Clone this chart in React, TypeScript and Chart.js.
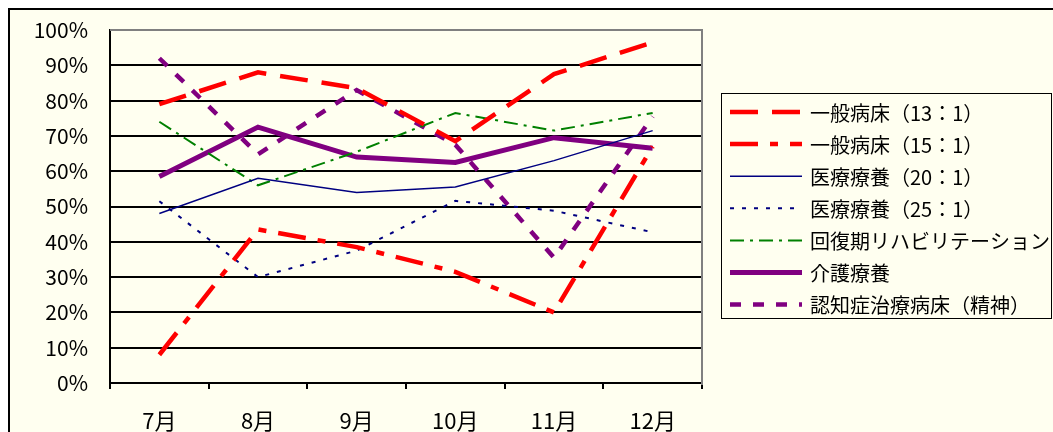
import React, { useEffect, useRef } from 'react';
import { Chart, registerables } from 'chart.js';

Chart.register(...registerables);

const categories = ['7月', '8月', '9月', '10月', '11月', '12月'];

const seriesNames = [
  '一般病床（13：1）',
  '一般病床（15：1）',
  '医療療養（20：1）',
  '医療療養（25：1）',
  '回復期リハビリテーション',
  '介護療養',
  '認知症治療病床（精神）',
];

const general13 = [79, 88, 83.5, 68.5, 87.5, 96.5];
const general15 = [8, 43.5, 38.5, 31.5, 20, 67];
const medical20 = [48, 58, 54, 55.5, 63, 71.5];
const medical25 = [51.5, 30, 37.5, 51.6, 48.8, 42.7];
const rehab = [74, 56, 65.5, 76.5, 71.5, 76.5];
const care = [58.5, 72.5, 64, 62.5, 69.5, 66.5];
const dementia = [92, 64.8, 83, 67.5, 35.5, 75.5];

const yMin = 0;
const yMax = 100;
const yStep = 10;

const FONT = '"Noto Sans CJK JP", "Noto Sans", sans-serif';
const IVORY = '#FFFFF0';

const framePlugin = {
  id: 'frame',
  beforeDraw(chart: any) {
    const { ctx, width, height } = chart;
    ctx.save();
    ctx.fillStyle = '#ffffff';
    ctx.fillRect(0, 0, width, height);
    ctx.fillStyle = IVORY;
    ctx.fillRect(9, 9, width, height);
    ctx.strokeStyle = '#000000';
    ctx.lineWidth = 2;
    ctx.beginPath();
    ctx.moveTo(9, height + 5);
    ctx.lineTo(9, 9);
    ctx.lineTo(width + 5, 9);
    ctx.stroke();
    ctx.restore();
  },
  beforeDatasetsDraw(chart: any) {
    const { ctx, chartArea } = chart;
    ctx.save();
    ctx.strokeStyle = '#808080';
    ctx.lineWidth = 2;
    ctx.beginPath();
    ctx.moveTo(chartArea.left, chartArea.top);
    ctx.lineTo(chartArea.right, chartArea.top);
    ctx.lineTo(chartArea.right, chartArea.bottom + 2);
    ctx.stroke();
    ctx.restore();
  },
};

const legendPlugin = {
  id: 'boxLegend',
  afterDraw(chart: any) {
    const { ctx } = chart;
    const bx = 721.5;
    const by = 93.5;
    const bw = 330;
    const bh = 225;
    ctx.save();
    ctx.strokeStyle = '#000000';
    ctx.lineWidth = 1;
    ctx.strokeRect(bx, by, bw, bh);
    const startY = 112;
    const rowH = 32.1;
    chart.data.datasets.forEach((ds: any, i: number) => {
      const y = startY + i * rowH;
      ctx.save();
      ctx.strokeStyle = ds.borderColor;
      ctx.lineWidth = ds.borderWidth;
      ctx.setLineDash(ds.borderDash || []);
      ctx.lineCap = 'butt';
      ctx.beginPath();
      ctx.moveTo(730, y);
      ctx.lineTo(802, y);
      ctx.stroke();
      ctx.restore();
      ctx.fillStyle = '#000000';
      ctx.font = `20px ${FONT}`;
      ctx.textBaseline = 'middle';
      ctx.textAlign = 'left';
      ctx.fillText(ds.label, 810, y + 1);
    });
    ctx.restore();
  },
};

export default function App() {
  const canvasRef = useRef<HTMLCanvasElement | null>(null);

  useEffect(() => {
    if (!canvasRef.current) return;
    const mk = (i: number, data: number[], color: string, width: number, dash: number[]) => ({
      label: seriesNames[i],
      data,
      borderColor: color,
      backgroundColor: color,
      borderWidth: width,
      borderDash: dash,
      borderCapStyle: 'butt',
      pointRadius: 0,
      pointHoverRadius: 0,
      tension: 0,
      fill: false,
    });
    const chart = new Chart(canvasRef.current, {
      type: 'line',
      data: {
        labels: categories,
        datasets: [
          mk(0, general13, '#FF0000', 4.5, [28, 14]),
          mk(1, general15, '#FF0000', 4.5, [28, 12, 8, 12]),
          mk(2, medical20, '#000080', 1.5, []),
          mk(3, medical25, '#000080', 2, [4, 8]),
          mk(4, rehab, '#008000', 2, [14, 6, 3, 6]),
          mk(5, care, '#800080', 5, []),
          mk(6, dementia, '#800080', 4.5, [11, 12]),
        ] as any,
      },
      options: {
        animation: false,
        responsive: false,
        maintainAspectRatio: false,
        layout: { padding: { left: 0, top: 30, right: 351, bottom: 0 } },
        plugins: {
          legend: { display: false },
          tooltip: { enabled: false },
          title: { display: false },
        },
        scales: {
          x: {
            type: 'category',
            offset: true,
            grid: {
              offset: true,
              drawOnChartArea: false,
              drawTicks: true,
              tickLength: 6,
              tickColor: '#000000',
              lineWidth: 2,
              color: '#000000',
            },
            border: { display: true, color: '#000000', width: 2 },
            ticks: {
              color: '#000000',
              font: { family: FONT, size: 22 },
              padding: 18,
              maxRotation: 0,
              autoSkip: false,
            },
            afterFit(scale: any) {
              scale.height = 49;
            },
          },
          y: {
            min: yMin,
            max: yMax,
            grid: {
              drawTicks: false,
              color: (c: any) => (c.tick && c.tick.value === yMax ? '#808080' : '#000000'),
              lineWidth: 2,
            },
            border: { display: true, color: '#000000', width: 2 },
            ticks: {
              stepSize: yStep,
              color: '#000000',
              font: { family: FONT, size: 21 },
              padding: 22,
              callback: (v: any) => `${v}%`,
            },
            afterFit(scale: any) {
              scale.width = 110;
              scale.paddingTop = 0;
              scale.paddingBottom = 0;
            },
          },
        },
      } as any,
      plugins: [framePlugin, legendPlugin],
    });
    return () => chart.destroy();
  }, []);

  return (
    <div style={{ position: 'absolute', left: 0, top: 0, width: 1053, height: 432 }}>
      <canvas ref={canvasRef} width={1053} height={432} style={{ width: 1053, height: 432 }} />
    </div>
  );
}
